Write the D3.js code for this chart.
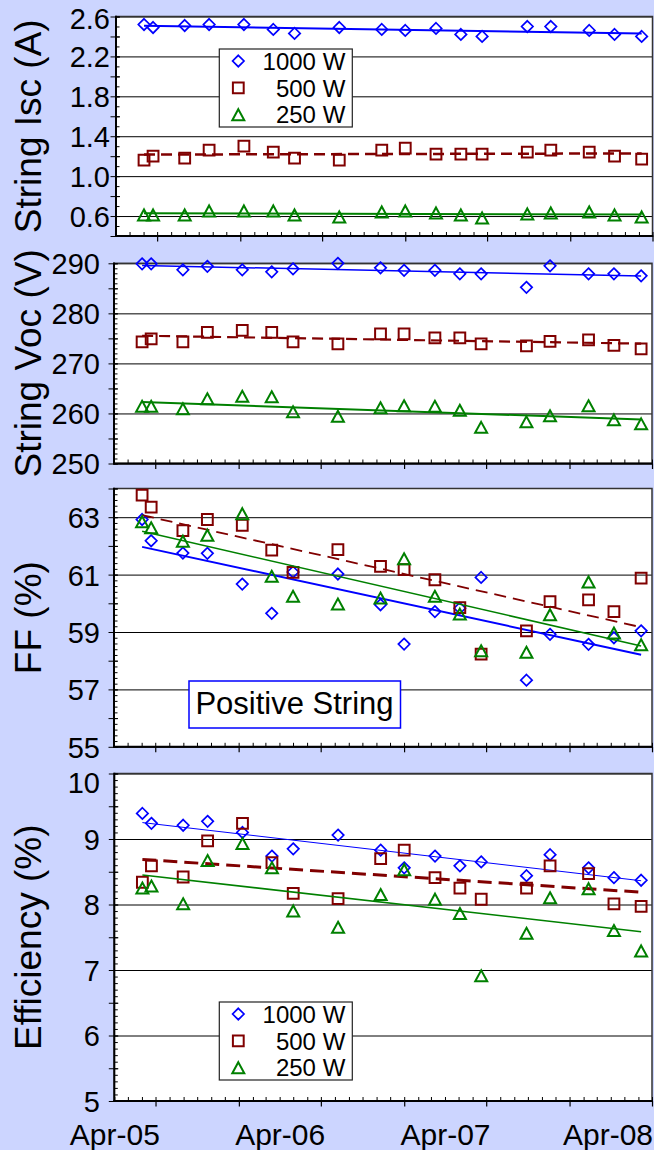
<!DOCTYPE html>
<html>
<head>
<meta charset="utf-8">
<script src="https://cdn.jsdelivr.net/npm/d3@7"></script>
<style>
  html, body { margin: 0; padding: 0; background: #ccd5ff; }
  svg { display: block; font-family: "Liberation Sans", Arial, sans-serif; }
</style>
</head>
<body>
<svg id="chart" width="654" height="1150"></svg>
<script>
// Measurement dates (shared by all four panels)
const dates = ["2005-06-02","2005-06-22","2005-08-31","2005-10-24","2006-01-09","2006-03-15",
  "2006-05-01","2006-08-08","2006-11-10","2007-01-01","2007-03-10","2007-05-04",
  "2007-06-20","2007-09-28","2007-11-19","2008-02-12","2008-04-08","2008-06-07"];

const seriesNames = ["1000 W", "500 W", "250 W"];

// String short-circuit current (A)
const isc1000 = [2.52, 2.49, 2.51, 2.52, 2.52, 2.47, 2.43, 2.49, 2.47, 2.46, 2.48, 2.42, 2.40, 2.50, 2.50, 2.46, 2.42, 2.40];
const isc500  = [1.16, 1.20, 1.18, 1.26, 1.30, 1.24, 1.18, 1.16, 1.26, 1.28, 1.22, 1.22, 1.22, 1.24, 1.26, 1.24, 1.20, 1.17];
const isc250  = [0.61, 0.61, 0.61, 0.65, 0.65, 0.65, 0.61, 0.59, 0.64, 0.65, 0.63, 0.61, 0.58, 0.62, 0.63, 0.64, 0.61, 0.59];

// String open-circuit voltage (V)
const voc1000 = [289.9, 289.9, 288.7, 289.4, 288.7, 288.3, 288.9, 290.0, 289.1, 288.6, 288.6, 287.9, 287.9, 285.2, 289.5, 287.9, 287.9, 287.5];
const voc500  = [274.3, 274.9, 274.3, 276.2, 276.6, 276.2, 274.3, 273.9, 275.9, 275.9, 275.1, 275.1, 273.9, 273.5, 274.4, 274.7, 273.6, 272.9];
const voc250  = [261.4, 261.4, 260.9, 262.9, 263.4, 263.3, 260.3, 259.4, 261.1, 261.5, 261.4, 260.6, 257.2, 258.3, 259.5, 261.5, 258.7, 257.9];

// Fill factor (%)
const ff1000 = [62.92, 62.18, 61.75, 61.74, 60.67, 59.65, 61.09, 61.02, 59.95, 58.58, 59.71, 59.83, 60.90, 57.32, 58.92, 58.57, 58.80, 59.04];
const ff500  = [63.77, 63.35, 62.53, 62.92, 62.72, 61.85, 61.08, 61.87, 61.29, 61.17, 60.82, 59.85, 58.23, 59.04, 60.06, 60.12, 59.71, 60.88];
const ff250  = [62.84, 62.63, 62.16, 62.37, 63.12, 60.94, 60.24, 59.97, 60.18, 61.55, 60.24, 59.62, 58.34, 58.29, 59.60, 60.74, 58.96, 58.55];

// Efficiency (%)
const eff1000 = [9.39, 9.24, 9.21, 9.27, 9.10, 8.74, 8.85, 9.06, 8.83, 8.56, 8.74, 8.59, 8.65, 8.44, 8.76, 8.56, 8.41, 8.37];
const eff500  = [8.34, 8.59, 8.42, 8.97, 9.24, 8.64, 8.17, 8.09, 8.70, 8.83, 8.41, 8.25, 8.08, 8.25, 8.59, 8.47, 8.01, 7.97];
const eff250  = [8.25, 8.28, 8.01, 8.67, 8.93, 8.56, 7.90, 7.65, 8.15, 8.53, 8.08, 7.86, 6.91, 7.56, 8.10, 8.24, 7.60, 7.29];

// Axis labels
const yTitles = ["String Isc (A)", "String Voc (V)", "FF (%)", "Efficiency (%)"];
const iscTicks = [0.6, 1.0, 1.4, 1.8, 2.2, 2.6];
const vocTicks = [250, 260, 270, 280, 290];
const ffTicks  = [55, 57, 59, 61, 63];
const effTicks = [5, 6, 7, 8, 9, 10];
const xTickLabels = ["Apr-05", "Apr-06", "Apr-07", "Apr-08"];
const boxLabel = "Positive String";

// ---------------------------------------------------------------
const parse = d3.timeParse("%Y-%m-%d");
const t = dates.map(parse);
const xStart = new Date(2005, 3, 1), xEnd = new Date(2008, 6, 1);
const xLabelDates = xTickLabels.map(d3.timeParse("%b-%y"));

const colors = ["#0000ff", "#800000", "#008000"];
const shapes = {
  diamond:  "M0,-5.7L5.7,0L0,5.7L-5.7,0Z",
  square:   "M-5.4,-5.4H5.4V5.4H-5.4Z",
  triangle: "M0,-5.6L6,5.4L-6,5.4Z"
};
const shapeOrder = ["diamond", "square", "triangle"];
const markerStroke = [1.7, 2, 2];

// topShift: the label at the top of each axis sits a little lower, inside the panel
const panels = [
  { values: [isc1000, isc500, isc250], domain: [0.4, 2.6], ticks: iscTicks, fmt: d3.format(".1f"),
    top: 16.5, bottom: 236, left: 116, right: 652.5, minor: 0.1, major: 0.2, labelX: 110, topShift: 2,
    trendW: [2, 2.5, 2], dash: "11,6" },
  { values: [voc1000, voc500, voc250], domain: [250, 290], ticks: vocTicks, fmt: d3.format("d"),
    top: 263.3, bottom: 463.5, left: 114, right: 652, minor: 1, major: 5, labelX: 100, topShift: 0,
    trendW: [1.5, 2.2, 2], dash: "11,6" },
  { values: [ff1000, ff500, ff250], domain: [55, 64], ticks: ffTicks, fmt: d3.format("d"),
    top: 488.5, bottom: 746.8, left: 114, right: 652, minor: 0.2, major: 1, labelX: 100, topShift: 0,
    trendW: [2, 1.8, 1.6], dash: "12,7" },
  { values: [eff1000, eff500, eff250], domain: [5, 10], ticks: effTicks, fmt: d3.format("d"),
    top: 773.5, bottom: 1101, left: 114.3, right: 652, minor: 0.1, major: 0.5, labelX: 100, topShift: 9,
    trendW: [1, 3, 1.6], dash: "14,7" }
];

const svg = d3.select("#chart");

function steps(lo, hi, step) {
  const a = Math.round(lo / step), b = Math.round(hi / step);
  return d3.range(a, b + 1).map(i => +(i * step).toFixed(6));
}

// Least-squares straight line through (time, value)
function linearFit(xs, ys) {
  const mx = d3.mean(xs), my = d3.mean(ys);
  let sxy = 0, sxx = 0;
  xs.forEach((x, i) => { sxy += (x - mx) * (ys[i] - my); sxx += (x - mx) * (x - mx); });
  const b = sxy / sxx;
  return x => my + b * (x - mx);
}

panels.forEach((p, pi) => {
  const x = d3.scaleTime().domain([xStart, xEnd]).range([p.left, p.right]);
  const y = d3.scaleLinear().domain(p.domain).range([p.bottom, p.top]);
  const g = svg.append("g");
  const w = p.right - p.left;

  // plot area
  g.append("rect").attr("x", p.left).attr("y", p.top)
    .attr("width", w).attr("height", p.bottom - p.top)
    .attr("fill", "#ffffff");

  // horizontal gridlines
  const grid = g.append("g").attr("transform", `translate(${p.left},0)`)
    .call(d3.axisLeft(y).tickValues(p.ticks).tickSize(-w).tickFormat(""));
  grid.select(".domain").remove();
  grid.selectAll("line").attr("stroke", "#000").attr("stroke-width", 1);

  // border
  g.append("rect").attr("x", p.left).attr("y", p.top)
    .attr("width", w).attr("height", p.bottom - p.top)
    .attr("fill", "none").attr("stroke", "#333").attr("stroke-width", 1.5);

  // y minor ticks (inside)
  const yMinor = g.append("g").attr("transform", `translate(${p.left},0)`)
    .call(d3.axisRight(y).tickValues(steps(p.domain[0], p.domain[1], p.minor)).tickSize(3.5).tickFormat(""));
  yMinor.select(".domain").remove();
  yMinor.selectAll("line").attr("stroke", "#000").attr("stroke-width", 1);

  // y major ticks (crossing the axis)
  const yMajor = g.append("g").attr("transform", `translate(${p.left + 4},0)`)
    .call(d3.axisLeft(y).tickValues(steps(p.domain[0], p.domain[1], p.major)).tickSize(9.5).tickFormat(""));
  yMajor.select(".domain").remove();
  yMajor.selectAll("line").attr("stroke", "#000").attr("stroke-width", 1);

  // y labels
  const yLab = g.append("g").attr("transform", `translate(${p.labelX},0)`)
    .call(d3.axisLeft(y).tickValues(p.ticks).tickSize(0).tickPadding(0).tickFormat(p.fmt));
  yLab.select(".domain").remove();
  yLab.attr("font-family", null).attr("font-size", null);
  const topTick = p.domain[1];
  yLab.selectAll("text").attr("font-size", 29).attr("fill", "#000").attr("dy", "0.36em")
    .attr("y", d => Math.abs(d - topTick) < 1e-9 ? p.topShift : 0);

  // x minor ticks (monthly, inside) and major ticks (half-yearly, outside)
  const xMinor = g.append("g").attr("transform", `translate(0,${p.bottom})`)
    .call(d3.axisTop(x).ticks(d3.timeMonth.every(1)).tickSize(4).tickFormat(""));
  xMinor.select(".domain").remove();
  xMinor.selectAll("line").attr("stroke", "#000");
  const xMajor = g.append("g").attr("transform", `translate(0,${p.bottom})`)
    .call(d3.axisBottom(x).ticks(d3.timeMonth.every(6)).tickSize(5.5).tickFormat(""));
  xMajor.select(".domain").remove();
  xMajor.selectAll("line").attr("stroke", "#000").attr("stroke-width", 1.2);

  // axis lines
  g.append("line").attr("x1", p.left).attr("x2", p.left).attr("y1", p.top - 0.75).attr("y2", p.bottom + 1)
    .attr("stroke", "#000").attr("stroke-width", 2);
  g.append("line").attr("x1", p.left - 1).attr("x2", p.right + 0.75).attr("y1", p.bottom).attr("y2", p.bottom)
    .attr("stroke", "#000").attr("stroke-width", 2);

  // y title
  g.append("text")
    .attr("transform", `translate(41,${(p.top + p.bottom) / 2}) rotate(-90)`)
    .attr("text-anchor", "middle").attr("font-size", 37).attr("fill", "#000")
    .text(yTitles[pi]);

  // series: markers then trend line
  const xs = t.map(d => +d);
  p.values.forEach((vals, si) => {
    g.append("g").selectAll("path").data(vals).join("path")
      .attr("transform", (v, i) => `translate(${x(t[i])},${y(v)})`)
      .attr("d", shapes[shapeOrder[si]])
      .attr("fill", "none").attr("stroke", colors[si]).attr("stroke-width", markerStroke[si]);

    const f = linearFit(xs, vals);
    const ends = [t[0], t[t.length - 1]];
    g.append("path")
      .datum(ends)
      .attr("d", d3.line().x(d => x(d)).y(d => y(f(+d))))
      .attr("fill", "none").attr("stroke", colors[si])
      .attr("stroke-width", p.trendW[si])
      .attr("stroke-dasharray", si === 1 ? p.dash : null);
  });

  p.x = x; p.y = y;
});

// x labels under the last panel
const last = panels[panels.length - 1];
const xl = svg.append("g").attr("transform", `translate(0,${last.bottom})`)
  .call(d3.axisBottom(last.x).tickValues(xLabelDates).tickSize(0).tickPadding(0).tickFormat(d3.timeFormat("%b-%y")));
xl.select(".domain").remove();
xl.attr("font-family", null).attr("font-size", null);
xl.selectAll("text").attr("font-size", 30).attr("fill", "#000").attr("dy", null).attr("y", 44);
xl.selectAll(".tick").each(function () {
  const node = d3.select(this).select("text").node();
  const half = node.getComputedTextLength() / 2;
  const tr = d3.select(this).attr("transform");
  const m = /translate\(([-\d.]+)/.exec(tr);
  const cx = +m[1];
  const shift = Math.min(0, 653 - (cx + half));
  d3.select(node).attr("x", shift);
});

// legends
function legend(x0, top) {
  const g = svg.append("g");
  g.append("rect").attr("x", x0).attr("y", top).attr("width", 133).attr("height", 78)
    .attr("fill", "#fff").attr("stroke", "#222").attr("stroke-width", 1.2);
  const rowY = [12, 38.9, 65.8];
  seriesNames.forEach((name, i) => {
    g.append("path").attr("transform", `translate(${x0 + 19},${top + rowY[i]})`)
      .attr("d", shapes[shapeOrder[i]]).attr("fill", "none")
      .attr("stroke", colors[i]).attr("stroke-width", markerStroke[i]);
    g.append("text").attr("x", x0 + 126).attr("y", top + rowY[i]).attr("dy", "0.36em")
      .attr("text-anchor", "end").attr("font-size", 24).attr("fill", "#000").text(name);
  });
}
legend(219.3, 49);
legend(219.3, 1002);

// label box on the FF panel
const bx = svg.append("g");
bx.append("rect").attr("x", 189).attr("y", 681).attr("width", 211.5).attr("height", 47)
  .attr("fill", "#fff").attr("stroke", "#0000ff").attr("stroke-width", 1.5);
bx.append("text").attr("x", 294.5).attr("y", 714).attr("text-anchor", "middle")
  .attr("font-size", 31).attr("fill", "#000").text(boxLabel);
</script>
</body>
</html>
